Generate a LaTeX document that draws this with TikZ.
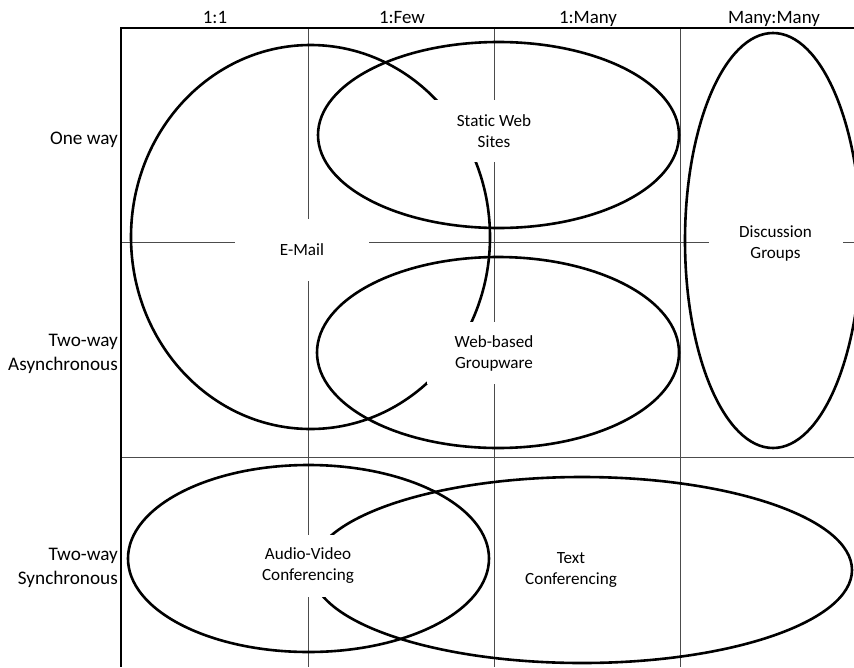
\documentclass[tikz,border=0pt]{standalone}
\usepackage{fontspec}
\setmainfont{Carlito}[Ligatures=NoCommon]
\begin{document}
\begin{tikzpicture}[x=1pt,y=-1pt,
  grid/.style={draw=black!70, line width=0.9pt},
  frame/.style={draw=black, line width=1.4pt},
  venn/.style={draw=black, line width=2.6pt},
  hdr/.style={font=\fontsize{18.9}{24}\selectfont, inner sep=0pt, anchor=base},
  rowlab/.style={font=\fontsize{19.2}{24}\selectfont, align=right, inner sep=0pt, anchor=east},
  lab/.style={font=\fontsize{17.1}{21}\selectfont, align=center, fill=white,
              minimum width=134pt, minimum height=62pt, inner sep=0pt}
]
\useasboundingbox (0,0) rectangle (854,667);
\clip (0,0) rectangle (854,667);
% grid
\foreach \x in {308,494,680} \draw[grid] (\x,28) -- (\x,667);
\foreach \y in {242,457} \draw[grid] (121,\y) -- (854,\y);
\draw[frame] (854,28) -- (121,28) -- (121,667);
% ellipses
\draw[venn] (310.5,237) ellipse [x radius=179.5, y radius=192];
\draw[venn] (498.5,135) ellipse [x radius=180.5, y radius=93];
\draw[venn] (498,352.5) ellipse [x radius=181, y radius=95.5];
\draw[venn] (773,240.5) ellipse [x radius=88, y radius=207.5];
\draw[venn] (308.5,558.5) ellipse [x radius=180.5, y radius=93.5];
\draw[venn] (582,570) ellipse [x radius=270, y radius=93];
% ellipse labels
\node[lab] (email) at (302,250) {E-Mail};
\node[lab] (static) at (494,131) {Static Web\\Sites};
\node[lab] (groupware) at (494,353) {Web-based\\Groupware};
\node[lab] (discussion) at (775.5,243.5) {Discussion\\Groups};
\node[lab] (av) at (308,565.5) {Audio-Video\\Conferencing};
\node[lab] (textconf) at (571,570) {Text\\Conferencing};
% column headers
\node[hdr] (h1) at (215,23) {1:1};
\node[hdr] (h2) at (402,23) {1:Few};
\node[hdr] (h3) at (588,23) {1:Many};
\node[hdr] (h4) at (774,23) {Many:Many};
% row labels
\node[rowlab] (r1) at (118,139.5) {One way};
\node[rowlab] (r2) at (118,354) {Two-way\\Asynchronous};
\node[rowlab] (r3) at (118,567.5) {Two-way\\Synchronous};
\end{tikzpicture}
\end{document}
